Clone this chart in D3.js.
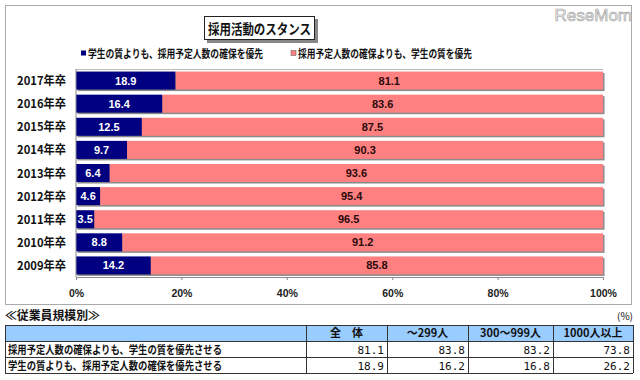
<!DOCTYPE html>
<html><head><meta charset="utf-8">
<script src="https://cdn.jsdelivr.net/npm/d3@7"></script>
<style>body{margin:0;background:#fff}svg{display:block}</style>
</head><body>
<svg id="c" width="640" height="380"></svg>
<script>
const years = ['2017年卒','2016年卒','2015年卒','2014年卒','2013年卒','2012年卒','2011年卒','2010年卒','2009年卒'];
const quantityFirst = [18.9,16.4,12.5,9.7,6.4,4.6,3.5,8.8,14.2];   // navy
const qualityFirst  = [81.1,83.6,87.5,90.3,93.6,95.4,96.5,91.2,85.8]; // pink
const seriesNames = ['学生の質よりも、採用予定人数の確保を優先','採用予定人数の確保よりも、学生の質を優先'];
const xTicks = [0,20,40,60,80,100];
const tableCols = ['全　体','～299人','300～999人','1000人以上'];
const tableRowLabels = ['採用予定人数の確保よりも、学生の質を優先させる','学生の質よりも、採用予定人数の確保を優先させる'];
const tableRow1 = [81.1,83.8,83.2,73.8];
const tableRow2 = [18.9,16.2,16.8,26.2];

const svg = d3.select('#c');
const JP = '"Noto Sans CJK JP","Noto Sans",sans-serif';
const NUM = '"Liberation Sans",Arial,sans-serif';
const navy = '#000080', pink = '#FF8080';

// outer frame
svg.append('rect').attr('x',5.5).attr('y',5.5).attr('width',626).attr('height',299)
  .attr('fill','#fff').attr('stroke','#aaa');

// watermark
svg.append('text').attr('x',632).attr('y',21).attr('text-anchor','end')
  .attr('font-family',NUM).attr('font-size',17).attr('fill','#f2f2f2')
  .attr('stroke','#999').attr('stroke-width',0.6).text('ReseMom');

// title box
svg.append('rect').attr('x',207).attr('y',19).attr('width',111).attr('height',24).attr('fill','#888');
svg.append('rect').attr('x',204.5).attr('y',16.5).attr('width',110).attr('height',23)
  .attr('fill','#fff').attr('stroke','#222');
svg.append('text').attr('x',259.5).attr('y',33.5).attr('text-anchor','middle')
  .attr('font-family',JP).attr('font-size',14).attr('font-weight','bold').attr('fill','#111')
  .attr('textLength',103).attr('lengthAdjust','spacingAndGlyphs').text('採用活動のスタンス');

// legend
const leg = [{x:81,c:navy,t:seriesNames[0],w:175},{x:291,c:pink,t:seriesNames[1],w:174}];
leg.forEach(l=>{
  svg.append('rect').attr('x',l.x).attr('y',50.5).attr('width',5).attr('height',5)
    .attr('fill',l.c).attr('stroke', l.c===pink?'#666':'none').attr('stroke-width',0.6);
  svg.append('text').attr('x',l.x+7).attr('y',57.5).attr('font-family',JP).attr('font-size',11)
    .attr('font-weight','bold').attr('fill','#111')
    .attr('textLength',l.w).attr('lengthAdjust','spacingAndGlyphs').text(l.t);
});

// scales
const x = d3.scaleLinear().domain([0,100]).range([76,603]);
const y = d3.scaleBand().domain(years).range([69,277]).paddingInner(0.22).paddingOuter(0.11);

const g = svg.append('g');
// plot top line
g.append('line').attr('x1',76).attr('x2',603).attr('y1',69.5).attr('y2',69.5).attr('stroke','#bbb');

years.forEach((yr,i)=>{
  const y0 = y(yr), h = y.bandwidth();
  // shadow
  g.append('rect').attr('x',x(0)+1.5).attr('y',y0+1.5).attr('width',x(100)-x(0)).attr('height',h)
    .attr('fill','#8a8a8a');
  g.append('rect').attr('x',x(0)).attr('y',y0).attr('width',x(quantityFirst[i])-x(0)).attr('height',h)
    .attr('fill',navy);
  g.append('rect').attr('x',x(quantityFirst[i])).attr('y',y0)
    .attr('width',x(quantityFirst[i]+qualityFirst[i])-x(quantityFirst[i])).attr('height',h)
    .attr('fill',pink);
  g.append('text').attr('x',(x(0)+x(quantityFirst[i]))/2).attr('y',y0+h/2+4)
    .attr('text-anchor','middle').attr('font-family',NUM).attr('font-size',11).attr('font-weight','bold')
    .attr('fill','#fff').text(quantityFirst[i].toFixed(1));
  g.append('text').attr('x',(x(quantityFirst[i])+x(100))/2).attr('y',y0+h/2+4)
    .attr('text-anchor','middle').attr('font-family',NUM).attr('font-size',11).attr('font-weight','bold')
    .attr('fill','#2a0a0a').text(qualityFirst[i].toFixed(1));
  g.append('text').attr('x',66).attr('y',y0+h/2+4.5).attr('text-anchor','end')
    .attr('font-family',JP).attr('font-size',12).attr('font-weight','bold').attr('fill','#111')
    .attr('textLength',49).attr('lengthAdjust','spacingAndGlyphs').text(yr);
});

// x axis
const xa = svg.append('g').attr('transform','translate(0,277)')
  .call(d3.axisBottom(x).tickValues(xTicks).tickSize(3).tickFormat(d=>d+'%'));
xa.select('.domain').attr('stroke','#888');
xa.selectAll('.tick line').attr('stroke','#888');
xa.selectAll('.tick text').attr('font-family',NUM).attr('font-size',10.5).attr('font-weight','bold')
  .attr('fill','#222').attr('dy','1.3em');
// left axis line
svg.append('line').attr('x1',76).attr('x2',76).attr('y1',69).attr('y2',277).attr('stroke','#888');

// table
svg.append('text').attr('x',5).attr('y',320).attr('font-family',JP).attr('font-size',12)
  .attr('font-weight','bold').attr('fill','#111')
  .attr('textLength',95).attr('lengthAdjust','spacingAndGlyphs').text('≪従業員規模別≫');
svg.append('text').attr('x',633).attr('y',320).attr('text-anchor','end').attr('font-family',JP)
  .attr('font-size',10).attr('fill','#111').text('(%)');

const colX = [5,306,387,468,553,633];
const rowY = [325,341,357,373];
const t = svg.append('g');
t.append('rect').attr('x',colX[0]).attr('y',rowY[0]).attr('width',colX[5]-colX[0]).attr('height',rowY[1]-rowY[0])
  .attr('fill','#99CCFF');
rowY.forEach(v=>t.append('line').attr('x1',colX[0]).attr('x2',colX[5]).attr('y1',v+0.5).attr('y2',v+0.5)
  .attr('stroke','#333'));
colX.forEach(v=>t.append('line').attr('x1',v+0.5).attr('x2',v+0.5).attr('y1',rowY[0]).attr('y2',rowY[3])
  .attr('stroke','#333'));
tableCols.forEach((c,j)=>{
  t.append('text').attr('x',(colX[j+1]+colX[j+2])/2).attr('y',rowY[0]+12).attr('text-anchor','middle')
    .attr('font-family',JP).attr('font-size',11).attr('font-weight','bold').attr('fill','#111').text(c);
});
[tableRow1,tableRow2].forEach((row,r)=>{
  t.append('text').attr('x',8).attr('y',rowY[r+1]+12.5).attr('font-family',JP).attr('font-size',11.5)
    .attr('font-weight','bold').attr('fill','#111')
    .attr('textLength',214).attr('lengthAdjust','spacingAndGlyphs').text(tableRowLabels[r]);
  row.forEach((v,j)=>{
    t.append('text').attr('x',colX[j+2]-3).attr('y',rowY[r+1]+12.5).attr('text-anchor','end')
      .attr('font-family','"DejaVu Sans Mono",monospace').attr('font-size',11).attr('fill','#111')
      .text(v.toFixed(1));
  });
});
</script>
</body></html>
